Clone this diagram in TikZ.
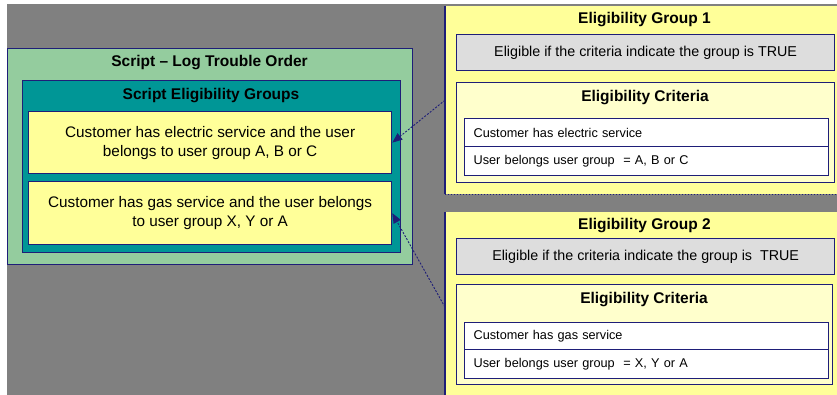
\documentclass[tikz,border=0pt]{standalone}
\usepackage{fontspec}
\setmainfont{Liberation Sans}
\usetikzlibrary{arrows.meta}
\definecolor{bggray}{RGB}{128,128,128}
\definecolor{navy}{RGB}{30,30,120}
\definecolor{sgreen}{RGB}{148,204,158}
\definecolor{steal}{RGB}{0,150,150}
\definecolor{syellow}{RGB}{255,255,153}
\definecolor{lyellow}{RGB}{255,255,204}
\definecolor{lgray}{RGB}{221,221,221}
\begin{document}
\begin{tikzpicture}[x=1pt,y=-1pt,
  rbox/.style={draw=navy,line width=1.3pt,inner sep=0pt,anchor=north west},
  titlef/.style={font=\fontsize{15.5}{18}\selectfont\bfseries,inner sep=0pt},
  bodyf/.style={font=\fontsize{15.3}{19}\selectfont,align=center},
  grayf/.style={font=\fontsize{14.3}{17}\selectfont,align=center},
  rowf/.style={font=\fontsize{12.7}{15}\selectfont,align=left,inner xsep=9pt,text width=346pt},
  conn/.style={draw=navy,line width=0.9pt,dash pattern=on 2pt off 1.5pt,-{Triangle[length=10pt,width=8pt]}}
]
\useasboundingbox (0,0) rectangle (837,395);
\clip (0,0) rectangle (837,395);
\fill[bggray] (7,4) rectangle (837,395);

% Left: script
\node[rbox,fill=sgreen,minimum width=405pt,minimum height=216pt] (script) at (7,48) {};
\node[titlef] (scripttitle) at (209.5,63) {Script -- Log Trouble Order};
\node[rbox,fill=steal,minimum width=378pt,minimum height=172pt] (seg) at (22,80) {};
\node[titlef] (segtitle) at (211,96) {Script Eligibility Groups};
\node[rbox,fill=syellow,minimum width=363pt,minimum height=62pt,bodyf] (e1) at (28,111)
  {Customer has electric service and the user\\belongs to user group A, B or C};
\node[rbox,fill=syellow,minimum width=363pt,minimum height=63pt,bodyf] (e2) at (28,181)
  {Customer has gas service and the user belongs\\to user group X, Y or A};

% Group 1
\node[fill=syellow,inner sep=0pt,anchor=north west,minimum width=405pt,minimum height=188pt] (g1) at (445,6) {};
\draw[navy,line width=1.3pt] (g1.north west) -- (g1.south west);
\draw[navy,line width=1pt,dotted] (g1.south west) -- (g1.south east);
\node[titlef] (g1title) at (644.5,20) {Eligibility Group 1};
\node[rbox,fill=lgray,minimum width=378pt,minimum height=36pt,grayf] (gr1) at (456,34)
  {Eligible if the criteria indicate the group is TRUE};
\node[rbox,fill=lyellow,minimum width=378pt,minimum height=100pt] (c1) at (456,82) {};
\node[titlef] (c1title) at (645,98) {Eligibility Criteria};
\node[rbox,fill=white,minimum height=28pt,rowf] (r1a) at (464,118) {Customer has electric service};
\node[rbox,fill=white,minimum height=29pt,rowf] (r1b) at (464,146) {User belongs user group \ = A, B or C};

% Group 2
\node[fill=syellow,inner sep=0pt,anchor=north west,minimum width=405pt,minimum height=190pt] (g2) at (445,212) {};
\draw[navy,line width=1.3pt] (g2.north west) -- (g2.south west);
\node[titlef] (g2title) at (644.5,226) {Eligibility Group 2};
\node[rbox,fill=lgray,minimum width=378pt,minimum height=36pt,grayf] (gr2) at (456,238)
  {Eligible if the criteria indicate the group is \ TRUE};
\node[rbox,fill=lyellow,minimum width=376pt,minimum height=100pt] (c2) at (456,284) {};
\node[titlef] (c2title) at (644,300) {Eligibility Criteria};
\node[rbox,fill=white,minimum height=27pt,rowf] (r2a) at (464,322) {Customer has gas service};
\node[rbox,fill=white,minimum height=29pt,rowf] (r2b) at (464,349) {User belongs user group \ = X, Y or A};

% connectors
\draw[conn] (g1.west) -- (e1.east);
\draw[conn] (g2.west) -- (e2.east);
\end{tikzpicture}
\end{document}
